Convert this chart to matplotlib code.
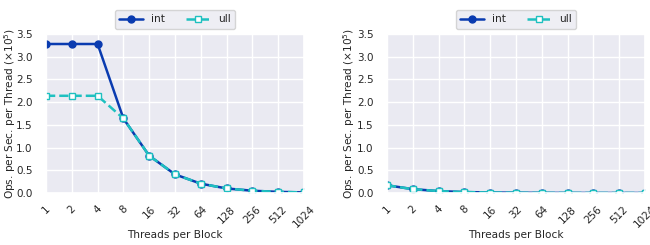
import matplotlib
matplotlib.use("Agg")
import matplotlib.pyplot as plt
import seaborn as sns
import numpy as np

sns.set_theme(style="darkgrid")
plt.rcParams['font.family'] = ['DejaVu Sans']

threads = ["1", "2", "4", "8", "16", "32", "64", "128", "256", "512", "1024"]
left_int = [3.28, 3.28, 3.28, 1.64, 0.82, 0.41, 0.205, 0.10, 0.05, 0.025, 0.013]
left_ull = [2.14, 2.14, 2.14, 1.64, 0.82, 0.41, 0.205, 0.10, 0.05, 0.025, 0.013]
right_int = [0.17, 0.085, 0.042, 0.021, 0.011, 0.006, 0.003, 0.0015, 0.0008, 0.0004, 0.0002]
right_ull = [0.17, 0.085, 0.042, 0.021, 0.011, 0.006, 0.003, 0.0015, 0.0008, 0.0004, 0.0002]

c_int = "#0a3bb0"
c_ull = "#1ec0c0"
fs = 7.5
lfs = 7.6

fig = plt.figure(figsize=(6.5, 2.45), dpi=100)
W, H = 650, 245
axes = [fig.add_axes([46 / W, 1 - 193 / H, 258 / W, 159 / H]),
        fig.add_axes([387 / W, 1 - 193 / H, 258 / W, 159 / H])]

for ax, yi, yu, ylx in zip(axes, [left_int, right_int], [left_ull, right_ull], [-0.11, -0.118]):
    x = np.arange(len(threads))
    ax.plot(x, yi, color=c_int, marker="o", markersize=5, linewidth=1.8, label="int")
    ax.plot(x, yu, color=c_ull, marker="s", markersize=5, markerfacecolor="white",
            linewidth=1.8, linestyle="--", label="ull")
    ax.set_xlim(0, len(threads) - 1)
    ax.set_ylim(0, 3.5)
    ax.set_xticks(x)
    ax.set_xticklabels(threads, rotation=45, fontsize=fs)
    ax.set_yticks(np.arange(0, 3.51, 0.5))
    ax.set_yticklabels([f"{v:.1f}" for v in np.arange(0, 3.51, 0.5)], fontsize=fs)
    ax.tick_params(axis="x", pad=2)
    ax.tick_params(axis="y", pad=3.5)
    ax.set_xlabel("Threads per Block", fontsize=lfs)
    ax.set_ylabel(r"Ops. per Sec. per Thread ($\times10^5$)", fontsize=lfs)
    ax.yaxis.set_label_coords(ylx, 0.5)
    ax.xaxis.set_label_coords(0.5, -0.23)
    ax.legend(loc="lower center", bbox_to_anchor=(0.5, 1.0), ncol=2, fontsize=lfs,
              handlelength=2.2, columnspacing=2.0, frameon=True)

fig.savefig("out.png", dpi=100)
